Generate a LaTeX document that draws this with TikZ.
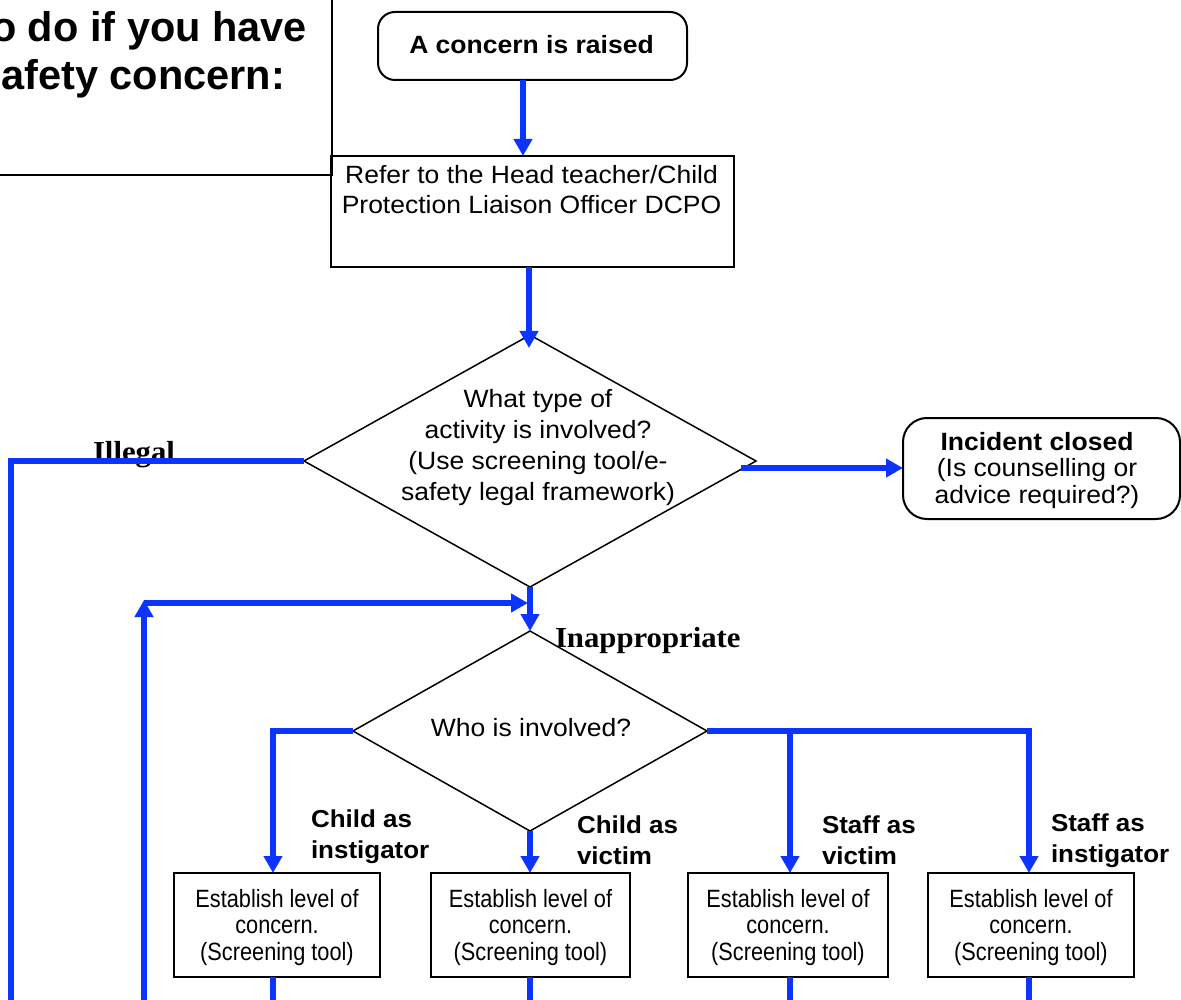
\documentclass[tikz,border=0pt]{standalone}
\usepackage{fontspec}
\setmainfont{Liberation Sans}[FakeStretch=1.06]
\newfontfamily\titlefont{Liberation Sans}
\newfontfamily\narrowfont{Liberation Sans}[FakeStretch=0.87]
\newfontfamily\labelserif{Liberation Serif}[FakeStretch=1.06]
\usetikzlibrary{shapes.geometric,arrows.meta}
\definecolor{flowblue}{RGB}{13,51,255}
\tikzset{
  box/.style={draw=black, line width=2pt, inner sep=0pt, outer sep=0pt},
  rbox/.style={box, rounded corners=#1},
  dec/.style={diamond, draw=black, line width=1.5pt, inner sep=0pt, outer sep=0pt},
  flow/.style={draw=flowblue, line width=6pt, line join=miter},
  arr/.style={flow, -{Triangle[width=18pt,length=17pt]}},
  txt/.style={inner sep=0pt, outer sep=0pt},
  branchlbl/.style={txt, anchor=north west, align=left, font=\bfseries\fontsize{24.5}{31}\selectfont},
  estxt/.style={txt, anchor=north, align=center, font=\narrowfont\fontsize{25}{26.5}\selectfont},
  serlbl/.style={txt, anchor=base west, font=\labelserif\bfseries\fontsize{29}{30}\selectfont}
}
\begin{document}
\begin{tikzpicture}[x=1pt,y=-1pt]
\useasboundingbox (0,0) rectangle (1181,1000);
\fill[white] (0,0) rectangle (1181,1000);

% title box (cut by the page edge)
\begin{scope}
\clip (0,0) rectangle (1181,1000);
\node[box, minimum width=400pt, minimum height=220pt, anchor=south east] (titlebox) at (332,175) {};
\node[txt, anchor=base east, font=\titlefont\bfseries\fontsize{41.5}{48}\selectfont] (title1) at (307,42) {o do if you have};
\node[txt, anchor=base east, font=\titlefont\bfseries\fontsize{41.5}{48}\selectfont] (title2) at (285,90) {afety concern:};
\end{scope}

% top
\node[rbox=17pt, minimum width=309pt, minimum height=68pt] (concern) at (532.5,46) {};
\node[txt, anchor=base, font=\bfseries\fontsize{25}{30}\selectfont] (concerntxt) at (531.5,54) {A concern is raised};

\node[box, minimum width=403pt, minimum height=111pt] (refer) at (532.5,211.5) {};
\node[txt, anchor=north, align=center, font=\fontsize{25}{30}\selectfont] (refertxt) at (531.5,163)
  {\strut Refer to the Head teacher/Child\\\strut Protection Liaison Officer DCPO};

% first decision
\node[dec, minimum width=452pt, minimum height=252pt] (d1) at (530,461) {};
\node[txt, anchor=north, align=center, font=\fontsize{25}{30.7}\selectfont] (d1txt) at (538,386.5)
  {\strut What type of\\\strut activity is involved?\\\strut (Use screening tool/e-\\\strut safety legal framework)};

\node[rbox=24pt, minimum width=277pt, minimum height=101pt] (incident) at (1041.5,468.5) {};
\node[txt, anchor=north, align=center, font=\fontsize{25}{26.5}\selectfont] (incidenttxt) at (1037,431.5)
  {\strut\textbf{Incident closed}\\\strut (Is counselling or\\\strut advice required?)};

\node[serlbl] (illegal) at (93,461) {Illegal};
\node[serlbl] (inapp) at (555,647) {Inappropriate};

% second decision
\node[dec, minimum width=354pt, minimum height=200pt] (d2) at (530,731) {};
\node[txt, anchor=base, font=\fontsize{25}{30}\selectfont] (d2txt) at (531,736) {Who is involved?};

% bottom boxes
\node[box, minimum width=206pt, minimum height=104pt] (b1) at (277,925) {};
\node[box, minimum width=199pt, minimum height=104pt] (b2) at (530.5,925) {};
\node[box, minimum width=200pt, minimum height=104pt] (b3) at (788,925) {};
\node[box, minimum width=206pt, minimum height=104pt] (b4) at (1031,925) {};
\foreach \b in {b1,b2,b3,b4}{
  \node[estxt] (\b txt) at ([yshift=36.55pt]\b.center)
    {\strut Establish level of\\\strut concern.\\\strut (Screening tool)};
}

% branch labels
\node[branchlbl] (lbl1) at (311,805.3) {\strut Child as\\\strut instigator};
\node[branchlbl] (lbl2) at (577,811.3) {\strut Child as\\\strut victim};
\node[branchlbl] (lbl3) at (822,811.3) {\strut Staff as\\\strut victim};
\node[branchlbl] (lbl4) at (1051,809.3) {\strut Staff as\\\strut instigator};

% coordinates
\coordinate (pagebottom) at (0,1004);
\coordinate (referout) at (529,267);
\coordinate (d1in) at (529,348);
\coordinate (concernout) at (523,80);
\coordinate (illcorner) at (11,463);
\coordinate (incstart) at (741,468);
\coordinate (looptop) at (144,600);
\coordinate (loopstart) at (144,603);
\coordinate (loopend) at (528,603);
\coordinate (lcorner) at (273,731);
\coordinate (mx) at (530,731);
\coordinate (sx) at (790,731);
\coordinate (rcorner) at (1029,731);

% connectors
\draw[arr] (concernout) -- (concernout |- refer.north);
\draw[arr] (referout) -- (d1in);
\draw[flow] (d1.west) -- (d1.west -| illcorner) -- (illcorner |- pagebottom);
\draw[arr] (incstart) -- (incstart -| incident.west);
\draw[arr] (looptop |- pagebottom) -- (looptop);
\draw[arr] (loopstart) -- (loopend);
\draw[arr] (d1.south) -- (d2.north);

\draw[arr] (d2.west) -- (lcorner) -- (lcorner |- b1.north);
\draw[arr] (d2.south) -- (mx |- b2.north);
\draw[flow] (d2.east) -- ([xshift=3pt]rcorner);
\draw[arr] (sx) -- (sx |- b3.north);
\draw[arr] (rcorner) -- (rcorner |- b4.north);

\draw[flow] (lcorner |- b1.south) -- (lcorner |- pagebottom);
\draw[flow] (mx |- b2.south) -- (mx |- pagebottom);
\draw[flow] (sx |- b3.south) -- (sx |- pagebottom);
\draw[flow] (rcorner |- b4.south) -- (rcorner |- pagebottom);
\end{tikzpicture}
\end{document}
